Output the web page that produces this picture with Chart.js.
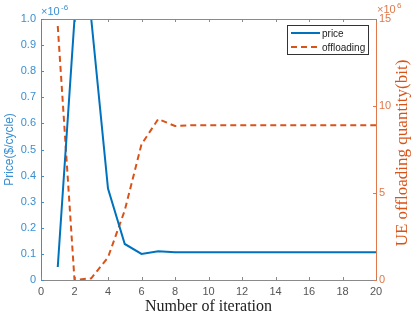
<!DOCTYPE html>
<html lang="en">
<head>
    <meta charset="UTF-8">
    <title>Price and offloading</title>
    <script src="https://cdn.jsdelivr.net/npm/chart.js"></script>
    <style>
        body { margin: 0; background: #fff; }
        #wrap { width: 412px; height: 323px; position: relative; }
    </style>
</head>
<body>
<div id="wrap"><canvas id="chart"></canvas></div>
<script>
    // iterations 1..20
    const iterations = [1, 2, 3, 4, 5, 6, 7, 8, 9, 10, 11, 12, 13, 14, 15, 16, 17, 18, 19, 20];
    // price, in units of 1e-6 $/cycle
    const price = [0.05, 1.0, 1.0, 0.35, 0.138, 0.1, 0.11, 0.106, 0.106, 0.106, 0.106, 0.106, 0.106, 0.106, 0.106, 0.106, 0.106, 0.106, 0.106, 0.106];
    // offloading quantity, in units of 1e6 bit
    const offloading = [14.6, 0, 0.1, 1.3, 4.0, 7.8, 9.25, 8.85, 8.9, 8.9, 8.9, 8.9, 8.9, 8.9, 8.9, 8.9, 8.9, 8.9, 8.9, 8.9];
    const xTicks = [0, 2, 4, 6, 8, 10, 12, 14, 16, 18, 20];
    const priceTicks = [0, 0.1, 0.2, 0.3, 0.4, 0.5, 0.6, 0.7, 0.8, 0.9, 1];
    const offTicks = [0, 5, 10, 15];

    const BLUE = "#0072BD";
    const BLUE_AX = "#3a8fd2";
    const ORANGE = "#D95319";
    const ORANGE_AX = "#e0784a";
    const GREY = "#8a8a8a";
    const tickFont = { family: "Arial, 'Liberation Sans'", size: 11 };

    function fixSize(size) {
        return function (scale) {
            if (scale.isHorizontal()) scale.height = size; else scale.width = size;
        };
    }

    // matlab-like frame: inward ticks, top border, titles, exponents, legend
    const decor = {
        id: "decor",
        afterDraw(chart) {
            const ctx = chart.ctx;
            const a = chart.chartArea;
            const sx = chart.scales.x, sy = chart.scales.y, sy1 = chart.scales.y1;
            ctx.save();
            ctx.lineWidth = 1;
            // top border
            ctx.strokeStyle = GREY;
            ctx.beginPath();
            ctx.moveTo(a.left, a.top + 0.5);
            ctx.lineTo(a.right, a.top + 0.5);
            ctx.stroke();
            // x ticks bottom and top
            xTicks.forEach(v => {
                const px = Math.round(sx.getPixelForValue(v)) + 0.5;
                ctx.beginPath();
                ctx.moveTo(px, a.bottom); ctx.lineTo(px, a.bottom - 3);
                ctx.moveTo(px, a.top); ctx.lineTo(px, a.top + 3);
                ctx.stroke();
            });
            ctx.strokeStyle = BLUE_AX;
            priceTicks.forEach(v => {
                const py = Math.round(sy.getPixelForValue(v)) + 0.5;
                ctx.beginPath();
                ctx.moveTo(a.left, py); ctx.lineTo(a.left + 3, py);
                ctx.stroke();
            });
            ctx.strokeStyle = ORANGE_AX;
            offTicks.forEach(v => {
                const py = Math.round(sy1.getPixelForValue(v)) + 0.5;
                ctx.beginPath();
                ctx.moveTo(a.right, py); ctx.lineTo(a.right - 3, py);
                ctx.stroke();
            });

            // exponents
            ctx.textBaseline = "alphabetic";
            ctx.textAlign = "left";
            ctx.fillStyle = BLUE_AX;
            ctx.font = "11px Arial, 'Liberation Sans'";
            ctx.fillText("\u00d710", a.left, a.top - 4);
            ctx.font = "8px Arial, 'Liberation Sans'";
            ctx.fillText("-6", a.left + 20, a.top - 9);
            ctx.fillStyle = ORANGE_AX;
            ctx.font = "11px Arial, 'Liberation Sans'";
            ctx.fillText("\u00d710", a.right + 1, a.top - 6);
            ctx.font = "8px Arial, 'Liberation Sans'";
            ctx.fillText("6", a.right + 21, a.top - 11);

            // axis titles
            ctx.textAlign = "center";
            ctx.textBaseline = "middle";
            ctx.fillStyle = "#222";
            ctx.font = "16px 'Liberation Serif', 'Times New Roman', serif";
            ctx.fillText("Number of iteration", (a.left + a.right) / 2, 307);

            ctx.save();
            ctx.translate(10, (a.top + a.bottom) / 2);
            ctx.rotate(-Math.PI / 2);
            ctx.fillStyle = BLUE_AX;
            ctx.font = "12px Arial, 'Liberation Sans'";
            ctx.fillText("Price($/cycle)", 0, 0);
            ctx.restore();

            ctx.save();
            ctx.translate(403, 153);
            ctx.rotate(-Math.PI / 2);
            ctx.fillStyle = ORANGE;
            ctx.font = "17px 'Liberation Serif', 'Times New Roman', serif";
            ctx.fillText("UE offloading quantity(bit)", 0, 0);
            ctx.restore();

            // legend
            const lx = 287, ly = 25, lw = 81, lh = 29;
            ctx.fillStyle = "#fff";
            ctx.fillRect(lx, ly, lw, lh);
            ctx.strokeStyle = "#333";
            ctx.strokeRect(lx + 0.5, ly + 0.5, lw, lh);
            ctx.textAlign = "left";
            ctx.font = "10px Arial, 'Liberation Sans'";
            chart.data.datasets.forEach((ds, i) => {
                const y = ly + 8 + i * 14;
                ctx.strokeStyle = ds.borderColor;
                ctx.lineWidth = 2;
                ctx.setLineDash(ds.borderDash || []);
                ctx.beginPath();
                ctx.moveTo(lx + 4, y); ctx.lineTo(lx + 33, y);
                ctx.stroke();
                ctx.setLineDash([]);
                ctx.fillStyle = "#222";
                ctx.fillText(ds.label, lx + 35, y + 1);
            });
            ctx.restore();
        }
    };

    new Chart(document.getElementById("chart"), {
        type: "line",
        data: {
            labels: iterations,
            datasets: [{
                label: "price",
                data: iterations.map((x, i) => ({ x: x, y: price[i] })),
                borderColor: BLUE,
                borderWidth: 2,
                pointRadius: 0,
                yAxisID: "y",
                tension: 0
            }, {
                label: "offloading",
                data: iterations.map((x, i) => ({ x: x, y: offloading[i] })),
                borderColor: ORANGE,
                borderWidth: 2,
                borderDash: [6, 4],
                pointRadius: 0,
                yAxisID: "y1",
                tension: 0
            }]
        },
        options: {
            responsive: true,
            maintainAspectRatio: false,
            animation: false,
            layout: { padding: { top: 19, left: 0, right: 0, bottom: 0 } },
            plugins: { legend: { display: false }, tooltip: { enabled: false } },
            scales: {
                x: {
                    type: "linear",
                    min: 0, max: 20,
                    afterFit: fixSize(43),
                    afterBuildTicks: s => { s.ticks = xTicks.map(v => ({ value: v })); },
                    grid: { display: false, drawTicks: false },
                    border: { display: true, color: GREY },
                    ticks: { color: "#555", font: tickFont, padding: 5, maxRotation: 0 }
                },
                y: {
                    position: "left",
                    min: 0, max: 1,
                    afterFit: fixSize(41),
                    afterBuildTicks: s => { s.ticks = priceTicks.map(v => ({ value: v })); },
                    grid: { display: false, drawTicks: false },
                    border: { display: true, color: BLUE_AX },
                    ticks: { color: BLUE_AX, font: tickFont, padding: 5 }
                },
                y1: {
                    position: "right",
                    min: 0, max: 15,
                    afterFit: fixSize(36),
                    afterBuildTicks: s => { s.ticks = offTicks.map(v => ({ value: v })); },
                    grid: { display: false, drawTicks: false },
                    border: { display: true, color: ORANGE_AX },
                    ticks: { color: ORANGE_AX, font: tickFont, padding: 3 }
                }
            }
        },
        plugins: [decor]
    });
</script>
</body>
</html>
